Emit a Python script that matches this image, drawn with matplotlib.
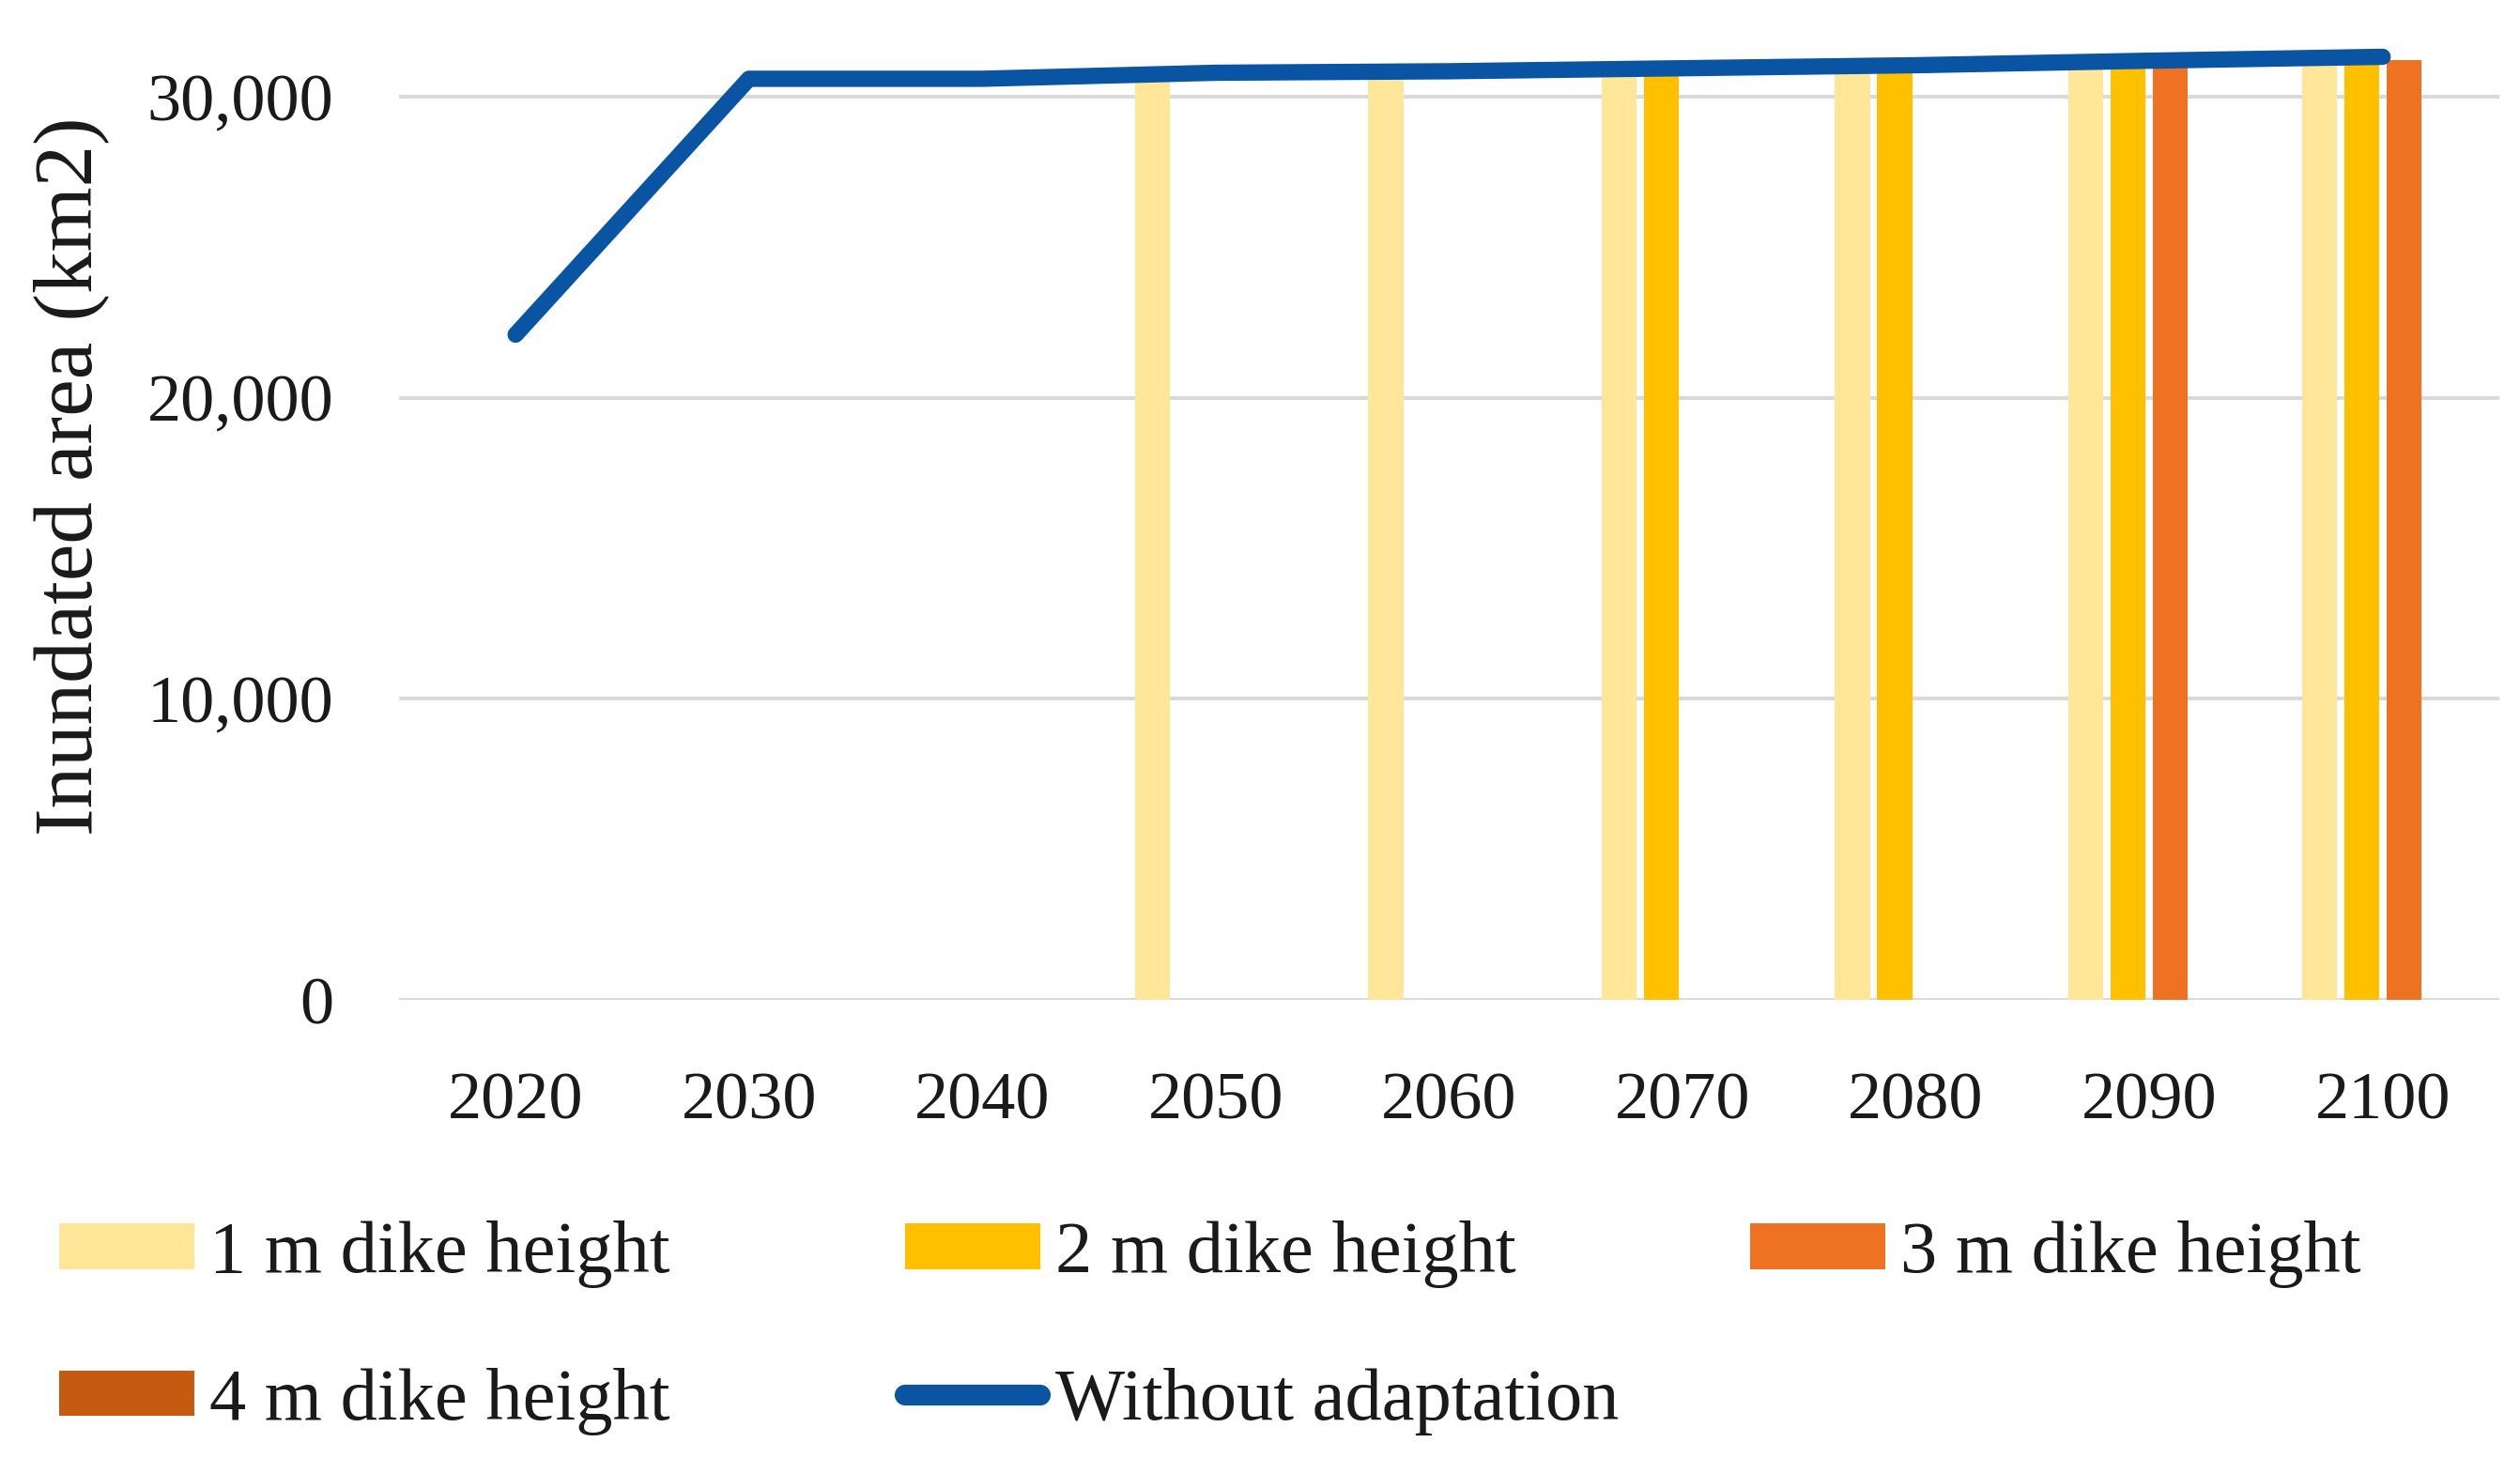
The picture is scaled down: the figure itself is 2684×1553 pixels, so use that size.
import matplotlib
matplotlib.use("Agg")
import matplotlib.pyplot as plt
from matplotlib.patches import Patch
from matplotlib.lines import Line2D
from matplotlib.ticker import FuncFormatter
import numpy as np

plt.rcParams['font.family'] = ['Liberation Serif', 'DejaVu Serif']

years = ['2020', '2030', '2040', '2050', '2060', '2070', '2080', '2090', '2100']
without_adaptation = [22100, 30600, 30600, 30800, 30850, 30950, 31050, 31200, 31330]
dike_1m = [0, 0, 0, 30700, 30750, 30850, 30950, 31100, 31230]
dike_2m = [0, 0, 0, 0, 0, 30850, 30950, 31100, 31230]
dike_3m = [0, 0, 0, 0, 0, 0, 0, 31100, 31230]
dike_4m = [0, 0, 0, 0, 0, 0, 0, 0, 0]
series_labels = ['1 m dike height', '2 m dike height', '3 m dike height', '4 m dike height']
line_label = 'Without adaptation'
y_label = 'Inundated area (km2)'

colors = ['#FFE699', '#FFC000', '#EF7122', '#C55A11']
line_color = '#0A54A4'
text_color = '#1a1a1a'

fig = plt.figure(figsize=(26.84, 15.53), dpi=100)
ax = fig.add_axes([0.1583, 0.3142, 0.8335, 0.671])

x = np.arange(len(years))
pitch = 0.181
bw = 0.15
for i, (vals, c) in enumerate(zip([dike_1m, dike_2m, dike_3m, dike_4m], colors)):
    ax.bar(x + (i - 1.5) * pitch, vals, width=bw, color=c, zorder=2, linewidth=0)

ax.plot(x, without_adaptation, color=line_color, lw=12.5, solid_capstyle='round',
        solid_joinstyle='round', zorder=3, clip_on=False)

ax.set_xlim(-0.5, len(years) - 0.5)
ax.set_ylim(0, 32500)
ax.set_yticks([0, 10000, 20000, 30000])
ax.yaxis.set_major_formatter(FuncFormatter(lambda v, p: f'{v:,.0f}'))
ax.set_xticks(x)
ax.set_xticklabels(years)
for s in ax.spines.values():
    s.set_visible(False)
ax.yaxis.grid(True, color='#d9d9d9', lw=2.8, zorder=0)
ax.set_axisbelow(True)
ax.tick_params(axis='both', length=0, labelsize=52, colors=text_color)
ax.tick_params(axis='y', pad=50)
ax.tick_params(axis='x', pad=55)

ax.set_ylabel(y_label, fontsize=64, color=text_color, va='center')
ax.yaxis.set_label_coords(-0.156, 0.535)

handles = [Patch(facecolor=c, edgecolor='none') for c in colors]
line_handle = Line2D([0], [0], color=line_color, lw=16, solid_capstyle='round')

cols = [
    ([handles[0], handles[3]], [series_labels[0], series_labels[3]], 63),
    ([handles[1], line_handle], [series_labels[1], line_label], 964),
    ([handles[2]], [series_labels[2]], 1864),
]
for hs, ls, xpx in cols:
    fig.legend(hs, ls, loc='upper left', bbox_to_anchor=(xpx / 2684, 1 - 1300 / 1553),
               frameon=False, fontsize=56.5, handlelength=1.83, handleheight=0.58,
               handletextpad=0.21, labelspacing=1.08, borderpad=0, borderaxespad=0,
               labelcolor=text_color)

fig.savefig('out.png', dpi=100)
